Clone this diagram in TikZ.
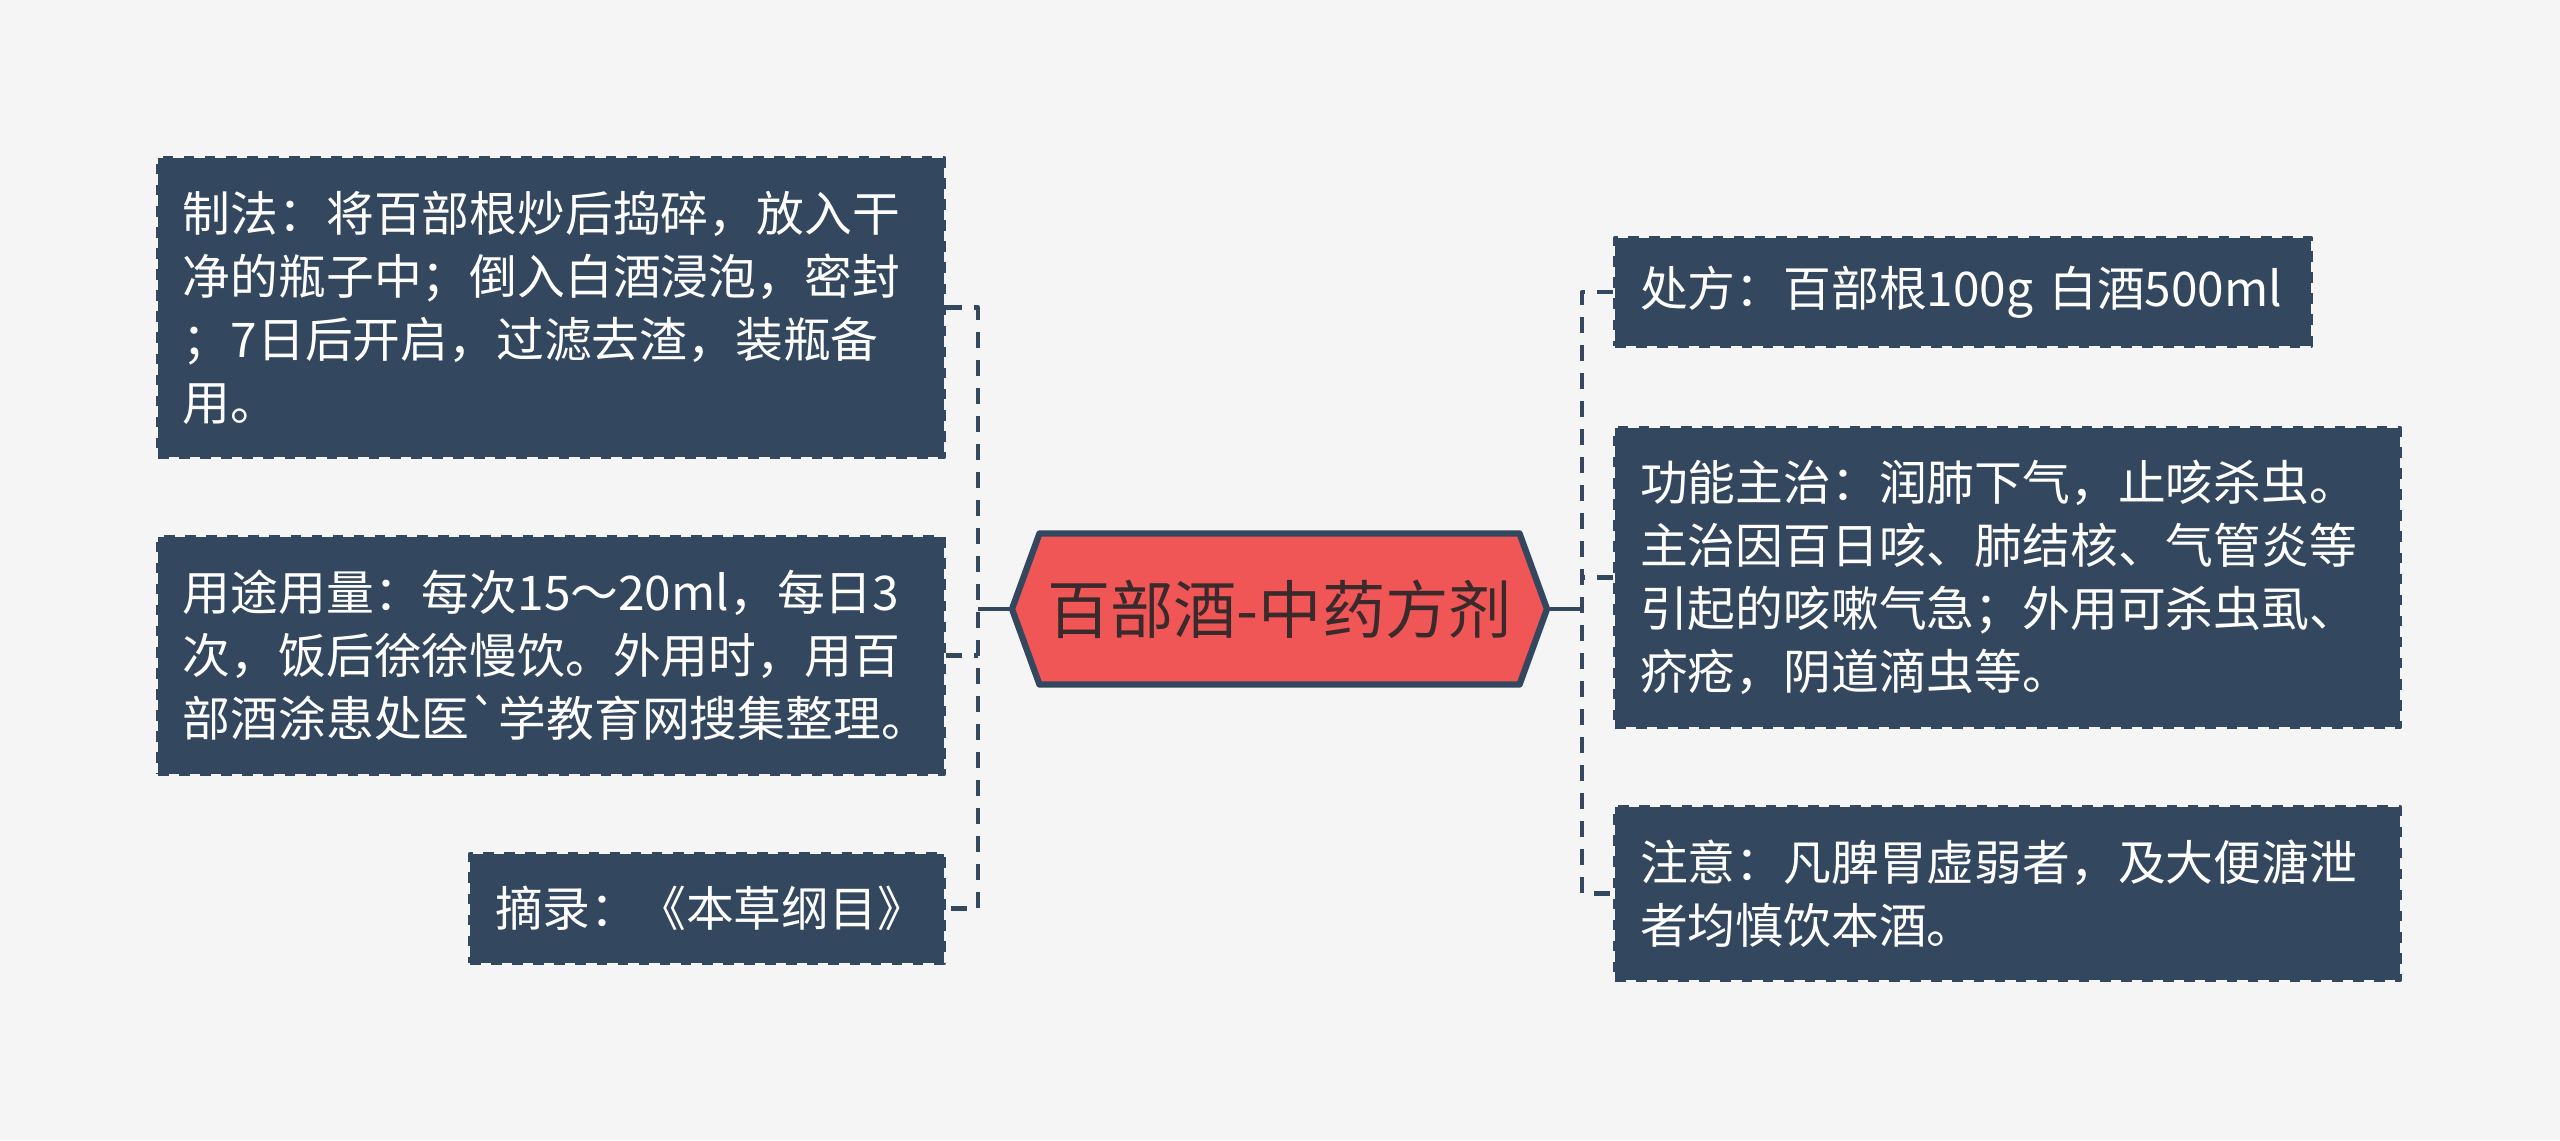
\documentclass[tikz,border=0pt]{standalone}
\usepackage{fontspec}
\newfontfamily\cjk{Noto Sans CJK SC}
\usetikzlibrary{shapes.symbols}
\definecolor{bgcol}{HTML}{F5F5F5}
\definecolor{boxcol}{HTML}{33475E}
\definecolor{hexcol}{HTML}{F05656}
\definecolor{hextext}{HTML}{3A2A2C}
\begin{document}
\begin{tikzpicture}[line join=round,
	leaf/.style={draw=boxcol, fill=boxcol, dashed, line width=1.2pt, text=white, align=left, inner sep=0pt,
		font={\cjk\fontsize{13.6}{17.9}\selectfont}},
	root/.style={shape=signal, signal to=west and east, signal pointer angle=140, draw=boxcol, fill=hexcol,
		line width=1.8pt, text=hextext, inner sep=0pt, minimum width=5.35cm, minimum height=1.51cm,
		font={\cjk\fontsize{18}{20}\selectfont}},
	link/.style={draw=boxcol, line width=1.15pt},
	dlink/.style={link, dash pattern=on 0.16cm off 0.12cm}]
	\useasboundingbox (0,0) rectangle (25.6,11.4);
	\fill[bgcol] (0,0) rectangle (25.6,11.4);
	% centre
	\node[root] (hex) at (12.795,5.31) {百部酒-中药方剂};
	% left side
	\node[leaf, minimum width=7.86cm, minimum height=2.99cm, text width=7.36cm] (zhifa) at (5.51,8.325)
		{制法：将百部根炒后捣碎，放入干\\净的瓶子中；倒入白酒浸泡，密封\\；7日后开启，过滤去渣，装瓶备\\用。};
	\node[leaf, minimum width=7.86cm, minimum height=2.37cm, text width=7.36cm] (yongtu) at (5.51,4.845)
		{用途用量：每次15～20ml，每日3\\次，饭后徐徐慢饮。外用时，用百\\部酒涂患处医\symbol{96}学教育网搜集整理。};
	\node[leaf, minimum width=4.74cm, minimum height=1.09cm, text width=4.24cm] (zhailu) at (7.07,2.315)
		{摘录：《本草纲目》};
	% right side
	\node[leaf, minimum width=6.96cm, minimum height=1.08cm, text width=6.46cm] (chufang) at (19.63,8.48)
		{处方：百部根100g 白酒500ml};
	\node[leaf, minimum width=7.85cm, minimum height=2.99cm, text width=7.35cm] (gongneng) at (20.075,5.625)
		{功能主治：润肺下气，止咳杀虫。\\主治因百日咳、肺结核、气管炎等\\引起的咳嗽气急；外用可杀虫虱、\\疥疮，阴道滴虫等。};
	\node[leaf, minimum width=7.85cm, minimum height=1.73cm, text width=7.35cm] (zhuyi) at (20.075,2.465)
		{注意：凡脾胃虚弱者，及大便溏泄\\者均慎饮本酒。};
	% connectors
	\coordinate (lj) at (9.78,5.31);
	\coordinate (rj) at (15.82,5.31);
	\draw[link] (hex.west) -- (lj);
	\draw[link] (hex.east) -- (rj);
	\draw[dlink] (zhifa.east) -| (lj |- zhailu.east) -- (zhailu.east);
	\draw[dlink] (yongtu.east) -- (lj |- yongtu.east);
	\draw[dlink] (chufang.west) -| (rj |- zhuyi.west) -- (zhuyi.west);
	\draw[dlink] (gongneng.west) -- (rj |- gongneng.west);
\end{tikzpicture}
\end{document}
